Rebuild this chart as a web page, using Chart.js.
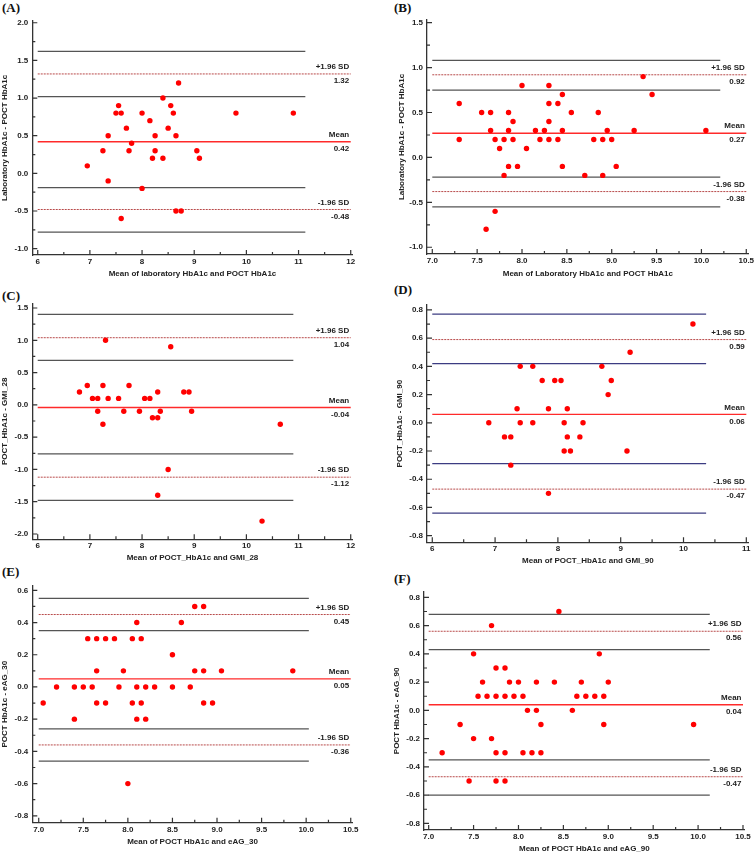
<!DOCTYPE html>
<html lang="en">
<head>
<meta charset="UTF-8">
<title>Bland-Altman plots: HbA1c agreement</title>
<script src="https://cdn.jsdelivr.net/npm/chart.js"></script>
<style>
  html, body { margin: 0; padding: 0; background: #fff; overflow: hidden; }
  body { width: 755px; height: 854px; position: relative; }
  canvas { position: absolute; }
  .tag { position: absolute; font: bold 13px "Liberation Serif", "Times New Roman", serif; line-height: 15px; color: #111; }
</style>
</head>
<body>
<div class="tag" style="left:2px;top:0px">(A)</div>
<div class="tag" style="left:394px;top:0px">(B)</div>
<div class="tag" style="left:2px;top:288px">(C)</div>
<div class="tag" style="left:394px;top:282px">(D)</div>
<div class="tag" style="left:2px;top:564px">(E)</div>
<div class="tag" style="left:394px;top:571px">(F)</div>

<canvas id="chartA"></canvas>
<canvas id="chartB"></canvas>
<canvas id="chartC"></canvas>
<canvas id="chartD"></canvas>
<canvas id="chartE"></canvas>
<canvas id="chartF"></canvas>

<script>
// ---- data ----
// (A) laboratory vs POCT HbA1c
const meanA = [6.95, 7.25, 7.35, 7.35, 7.5, 7.55, 7.6, 7.6, 7.7, 7.75, 7.8, 8.0, 8.0, 8.15, 8.2, 8.25, 8.25, 8.4, 8.4, 8.5, 8.55, 8.6, 8.65, 8.65, 8.7, 8.75, 9.05, 9.1, 9.8, 10.9];
const diffA = [0.1, 0.3, 0.5, -0.1, 0.8, 0.9, 0.8, -0.6, 0.6, 0.3, 0.4, 0.8, -0.2, 0.7, 0.2, 0.5, 0.3, 1.0, 0.2, 0.6, 0.9, 0.8, 0.5, -0.5, 1.2, -0.5, 0.3, 0.2, 0.8, 0.8];
const loaA = [1.32, 0.42, -0.48];          // +1.96 SD, mean, -1.96 SD
const ciA = [1.62, 1.02, -0.19, -0.78];    // confidence limits of the LoA
const xTicksA = [6, 7, 8, 9, 10, 11, 12];
const yTicksA = [-1.0, -0.5, 0, 0.5, 1.0, 1.5, 2.0];

// (B) laboratory vs POCT HbA1c, second cohort
const meanB = [7.3, 7.3, 7.55, 7.6, 7.65, 7.65, 7.7, 7.7, 7.75, 7.8, 7.8, 7.85, 7.85, 7.85, 7.9, 7.9, 7.95, 8.0, 8.05, 8.15, 8.2, 8.25, 8.3, 8.3, 8.3, 8.3, 8.4, 8.4, 8.45, 8.45, 8.45, 8.55, 8.7, 8.8, 8.85, 8.9, 8.9, 8.95, 9.0, 9.05, 9.25, 9.35, 9.45, 10.05];
const diffB = [0.6, 0.2, 0.5, -0.8, 0.5, 0.3, 0.2, -0.6, 0.1, 0.2, -0.2, 0.5, 0.3, -0.1, 0.4, 0.2, -0.1, 0.8, 0.1, 0.3, 0.2, 0.3, 0.8, 0.6, 0.4, 0.2, 0.6, 0.2, 0.7, 0.3, -0.1, 0.5, -0.2, 0.2, 0.5, 0.2, -0.2, 0.3, 0.2, -0.1, 0.3, 0.9, 0.7, 0.3];
const loaB = [0.92, 0.27, -0.38];
const ciB = [1.08, 0.75, -0.22, -0.55];
const xTicksB = [7.0, 7.5, 8.0, 8.5, 9.0, 9.5, 10.0, 10.5];
const yTicksB = [-1.0, -0.5, 0, 0.5, 1.0, 1.5];

// (C) POCT HbA1c vs GMI_28
const meanC = [6.8, 6.95, 7.05, 7.15, 7.15, 7.25, 7.25, 7.3, 7.35, 7.55, 7.65, 7.75, 7.95, 8.05, 8.15, 8.2, 8.3, 8.3, 8.3, 8.35, 8.5, 8.55, 8.8, 8.9, 8.95, 10.3, 10.65];
const diffC = [0.2, 0.3, 0.1, 0.1, -0.1, 0.3, -0.3, 1.0, 0.1, 0.1, -0.1, 0.3, -0.1, 0.1, 0.1, -0.2, 0.2, -0.2, -1.4, -0.1, -1.0, 0.9, 0.2, 0.2, -0.1, -1.8, -0.3];
const loaC = [1.04, -0.04, -1.12];
const ciC = [1.40, 0.69, -0.76, -1.48];
const xTicksC = [6, 7, 8, 9, 10, 11, 12];
const yTicksC = [-2.0, -1.5, -1.0, -0.5, 0, 0.5, 1.0, 1.5];

// (D) POCT HbA1c vs GMI_90
const meanD = [6.9, 7.15, 7.25, 7.25, 7.35, 7.4, 7.4, 7.6, 7.6, 7.75, 7.85, 7.85, 7.95, 8.05, 8.1, 8.1, 8.15, 8.15, 8.2, 8.35, 8.4, 8.7, 8.8, 8.85, 9.1, 9.15, 10.15];
const diffD = [0.0, -0.1, -0.1, -0.3, 0.1, 0.4, 0.0, 0.4, 0.0, 0.3, 0.1, -0.5, 0.3, 0.3, 0.0, -0.2, 0.1, -0.1, -0.2, -0.1, 0.0, 0.4, 0.2, 0.3, -0.2, 0.5, 0.7];
const loaD = [0.59, 0.06, -0.47];
const ciD = [0.77, 0.42, -0.29, -0.64];
const xTicksD = [6, 7, 8, 9, 10, 11];
const yTicksD = [-0.8, -0.6, -0.4, -0.2, 0, 0.2, 0.4, 0.6, 0.8];

// (E) POCT HbA1c vs eAG_30
const meanE = [7.05, 7.2, 7.4, 7.4, 7.5, 7.55, 7.6, 7.65, 7.65, 7.65, 7.75, 7.75, 7.85, 7.9, 7.95, 8.0, 8.05, 8.05, 8.1, 8.1, 8.1, 8.15, 8.15, 8.2, 8.2, 8.3, 8.5, 8.5, 8.6, 8.7, 8.75, 8.75, 8.85, 8.85, 8.85, 8.95, 9.05, 9.85];
const diffE = [-0.1, 0.0, 0.0, -0.2, 0.0, 0.3, 0.0, 0.3, 0.1, -0.1, 0.3, -0.1, 0.3, 0.0, 0.1, -0.6, 0.3, -0.1, 0.4, 0.0, -0.2, 0.3, -0.1, 0.0, -0.2, 0.0, 0.2, 0.0, 0.4, 0.0, 0.5, 0.1, 0.5, 0.1, -0.1, -0.1, 0.1, 0.1];
const loaE = [0.45, 0.05, -0.36];
const ciE = [0.55, 0.35, -0.26, -0.46];
const xTicksE = [7.0, 7.5, 8.0, 8.5, 9.0, 9.5, 10.0, 10.5];
const yTicksE = [-0.8, -0.6, -0.4, -0.2, 0, 0.2, 0.4, 0.6];

// (F) POCT HbA1c vs eAG_90
const meanF = [7.15, 7.35, 7.45, 7.5, 7.5, 7.55, 7.6, 7.65, 7.7, 7.7, 7.75, 7.75, 7.75, 7.75, 7.85, 7.85, 7.85, 7.85, 7.9, 7.95, 8.0, 8.05, 8.05, 8.1, 8.15, 8.2, 8.2, 8.25, 8.25, 8.4, 8.45, 8.6, 8.65, 8.7, 8.75, 8.85, 8.9, 8.95, 8.95, 9.0, 9.95];
const diffF = [-0.3, -0.1, -0.5, 0.4, -0.2, 0.1, 0.2, 0.1, 0.6, -0.2, 0.3, 0.1, -0.3, -0.5, 0.3, 0.1, -0.3, -0.5, 0.2, 0.1, 0.2, 0.1, -0.3, 0.0, -0.3, 0.2, 0.0, -0.1, -0.3, 0.2, 0.7, 0.0, 0.1, 0.2, 0.1, 0.1, 0.4, 0.1, -0.1, 0.2, -0.1];
const loaF = [0.56, 0.04, -0.47];
const ciF = [0.68, 0.43, -0.35, -0.60];
const xTicksF = [7.0, 7.5, 8.0, 8.5, 9.0, 9.5, 10.0, 10.5];
const yTicksF = [-0.8, -0.6, -0.4, -0.2, 0, 0.2, 0.4, 0.6, 0.8];

// ---- look ----
const FONT = '"Liberation Sans", Arial, sans-serif';
const INK = '#222';
const AXIS = '#333';
const GREY = '#555';
const NAVY = '#3c3c82';

// tick marks point inward (major 5px, minor 3px) + the line captions
const blandAltman = {
  id: 'blandAltman',
  afterDraw(chart, args, o) {
    const {ctx, chartArea: a, scales: {x, y}} = chart;
    const mid = t => t.slice(1).map((v, i) => (v + t[i]) / 2);
    ctx.save();
    ctx.strokeStyle = AXIS;
    ctx.lineWidth = 1.2;
    ctx.beginPath();
    o.xTicks.forEach(v => { const p = x.getPixelForValue(v); ctx.moveTo(p, a.bottom); ctx.lineTo(p, a.bottom - 5); });
    mid(o.xTicks).forEach(v => { const p = x.getPixelForValue(v); ctx.moveTo(p, a.bottom); ctx.lineTo(p, a.bottom - 3); });
    o.yTicks.forEach(v => { const p = y.getPixelForValue(v); ctx.moveTo(a.left, p); ctx.lineTo(a.left + 5, p); });
    mid(o.yTicks).forEach(v => { const p = y.getPixelForValue(v); ctx.moveTo(a.left, p); ctx.lineTo(a.left + 3, p); });
    ctx.stroke();

    ctx.fillStyle = INK;
    ctx.font = 'bold 8px ' + FONT;
    ctx.textAlign = 'right';
    ctx.textBaseline = 'middle';
    const right = x.getPixelForValue(o.xTicks[o.xTicks.length - 1]) - 1.5;
    const names = ['+1.96 SD', 'Mean', '-1.96 SD'];
    o.loa.forEach((v, i) => {
      const p = y.getPixelForValue(v);
      ctx.fillText(names[i], right, p - 7);
      ctx.fillText(v.toFixed(2), right, p + 7);
    });
    ctx.restore();
  }
};

function makePanel(id, d, L) {
  const cv = document.getElementById(id);
  cv.width = L.box.w;
  cv.height = L.box.h;
  cv.style.left = L.box.x + 'px';
  cv.style.top = L.box.y + 'px';

  const x0 = d.xTicks[0];
  const x1 = d.xTicks[d.xTicks.length - 1];
  const hline = (from, to, v) => [{x: from, y: v}, {x: to, y: v}];
  const flat = (data, color, width, dash) => ({
    type: 'line', data, borderColor: color, borderWidth: width, borderDash: dash || [],
    pointRadius: 0, fill: false, tension: 0
  });
  const tickFont = {family: FONT, size: 8, weight: 'bold'};

  new Chart(cv, {
    type: 'scatter',
    data: {
      datasets: [
        {
          type: 'scatter',
          data: d.mean.map((m, i) => ({x: m, y: d.diff[i]})),
          backgroundColor: '#ff0000', borderColor: '#ff0000', borderWidth: 0, pointRadius: 2.7
        },
        flat(hline(x0, x1, d.loa[1]), '#ff2a2a', 1.4),
        flat(hline(x0, x1, d.loa[0]), '#b84a4a', 1, [2, 1]),
        flat(hline(x0, x1, d.loa[2]), '#b84a4a', 1, [2, 1]),
        ...d.ci.map(v => flat(hline(x0, L.ciEnd, v), L.ciColor, 1.3))
      ]
    },
    options: {
      responsive: false,
      animation: false,
      events: [],
      layout: {padding: {top: L.area.T - L.box.y, right: L.box.x + L.box.w - L.area.R, left: 0, bottom: 0}},
      plugins: {
        legend: {display: false},
        tooltip: {enabled: false},
        blandAltman: {xTicks: d.xTicks, yTicks: d.yTicks, loa: d.loa}
      },
      scales: {
        x: {
          type: 'linear', min: L.xr[0], max: L.xr[1],
          afterBuildTicks: s => { s.ticks = d.xTicks.map(v => ({value: v})); },
          afterFit: s => { s.height = L.box.y + L.box.h - L.area.B; },
          grid: {display: false, drawTicks: false},
          border: {display: true, color: AXIS, width: 1.3},
          ticks: {padding: 2, color: INK, font: tickFont, autoSkip: false, maxRotation: 0,
                  callback: v => v.toFixed(L.xDec)},
          title: {display: true, text: d.xTitle, color: INK, font: tickFont,
                  padding: {top: 0, bottom: L.box.y + L.box.h - L.xTitleY - 4.8}}
        },
        y: {
          type: 'linear', min: L.yr[0], max: L.yr[1],
          afterBuildTicks: s => { s.ticks = d.yTicks.map(v => ({value: v})); },
          afterFit: s => { s.width = L.area.L - L.box.x; },
          grid: {display: false, drawTicks: false},
          border: {display: true, color: AXIS, width: 1.3},
          ticks: {padding: 4, color: INK, font: tickFont, autoSkip: false,
                  callback: v => v.toFixed(1)},
          title: {display: true, text: d.yTitle, color: INK, font: tickFont,
                  padding: {top: L.yTitleX - L.box.x - 4.8, bottom: 0}}
        }
      }
    },
    plugins: [blandAltman]
  });
}

makePanel('chartA',
  {mean: meanA, diff: diffA, loa: loaA, ci: ciA, xTicks: xTicksA, yTicks: yTicksA,
   xTitle: 'Mean of laboratory HbA1c and POCT HbA1c', yTitle: 'Laboratory HbA1c - POCT HbA1c'},
  {box: {x: 0, y: 0, w: 378, h: 290}, area: {L: 32.3, T: 20.7, R: 352.7, B: 255},
   xr: [5.896, 12.038], yr: [-1.084, 2.027], xDec: 0, xTitleY: 274, yTitleX: 5, ciEnd: 11.13, ciColor: GREY});

makePanel('chartB',
  {mean: meanB, diff: diffB, loa: loaB, ci: ciB, xTicks: xTicksB, yTicks: yTicksB,
   xTitle: 'Mean of Laboratory HbA1c and POCT HbA1c', yTitle: 'Laboratory HbA1c - POCT HbA1c'},
  {box: {x: 378, y: 0, w: 400, h: 290}, area: {L: 427, T: 20, R: 748.7, B: 254},
   xr: [6.941, 10.527], yr: [-1.075, 1.53], xDec: 1, xTitleY: 274, yTitleX: 401.3, ciEnd: 10.21, ciColor: GREY});

makePanel('chartC',
  {mean: meanC, diff: diffC, loa: loaC, ci: ciC, xTicks: xTicksC, yTicks: yTicksC,
   xTitle: 'Mean of POCT_HbA1c and GMI_28', yTitle: 'POCT_HbA1c - GMI_28'},
  {box: {x: 0, y: 280, w: 378, h: 290}, area: {L: 32.3, T: 303.3, R: 352.7, B: 539.3},
   xr: [5.896, 12.038], yr: [-2.082, 1.573], xDec: 0, xTitleY: 557.7, yTitleX: 5, ciEnd: 10.9, ciColor: GREY});

makePanel('chartD',
  {mean: meanD, diff: diffD, loa: loaD, ci: ciD, xTicks: xTicksD, yTicks: yTicksD,
   xTitle: 'Mean of POCT_HbA1c and GMI_90', yTitle: 'POCT_HbA1c - GMI_90'},
  {box: {x: 378, y: 280, w: 400, h: 290}, area: {L: 427, T: 305, R: 748.7, B: 542.3},
   xr: [5.916, 11.038], yr: [-0.847, 0.835], xDec: 0, xTitleY: 561, yTitleX: 399.7, ciEnd: 10.36, ciColor: NAVY});

makePanel('chartE',
  {mean: meanE, diff: diffE, loa: loaE, ci: ciE, xTicks: xTicksE, yTicks: yTicksE,
   xTitle: 'Mean of POCT HbA1c and eAG_30', yTitle: 'POCT HbA1c - eAG_30'},
  {box: {x: 0, y: 565, w: 378, h: 289}, area: {L: 32.3, T: 585.7, R: 352.7, B: 822.7},
   xr: [6.928, 10.522], yr: [-0.843, 0.629], xDec: 1, xTitleY: 841.7, yTitleX: 5, ciEnd: 10.03, ciColor: GREY});

makePanel('chartF',
  {mean: meanF, diff: diffF, loa: loaF, ci: ciF, xTicks: xTicksF, yTicks: yTicksF,
   xTitle: 'Mean of POCT HbA1c and eAG_90', yTitle: 'POCT HbA1c - eAG_90'},
  {box: {x: 378, y: 565, w: 400, h: 289}, area: {L: 424, T: 591.7, R: 744.7, B: 830},
   xr: [6.948, 10.519], yr: [-0.847, 0.84], xDec: 1, xTitleY: 848.3, yTitleX: 397, ciEnd: 10.13, ciColor: GREY});
</script>
</body>
</html>
